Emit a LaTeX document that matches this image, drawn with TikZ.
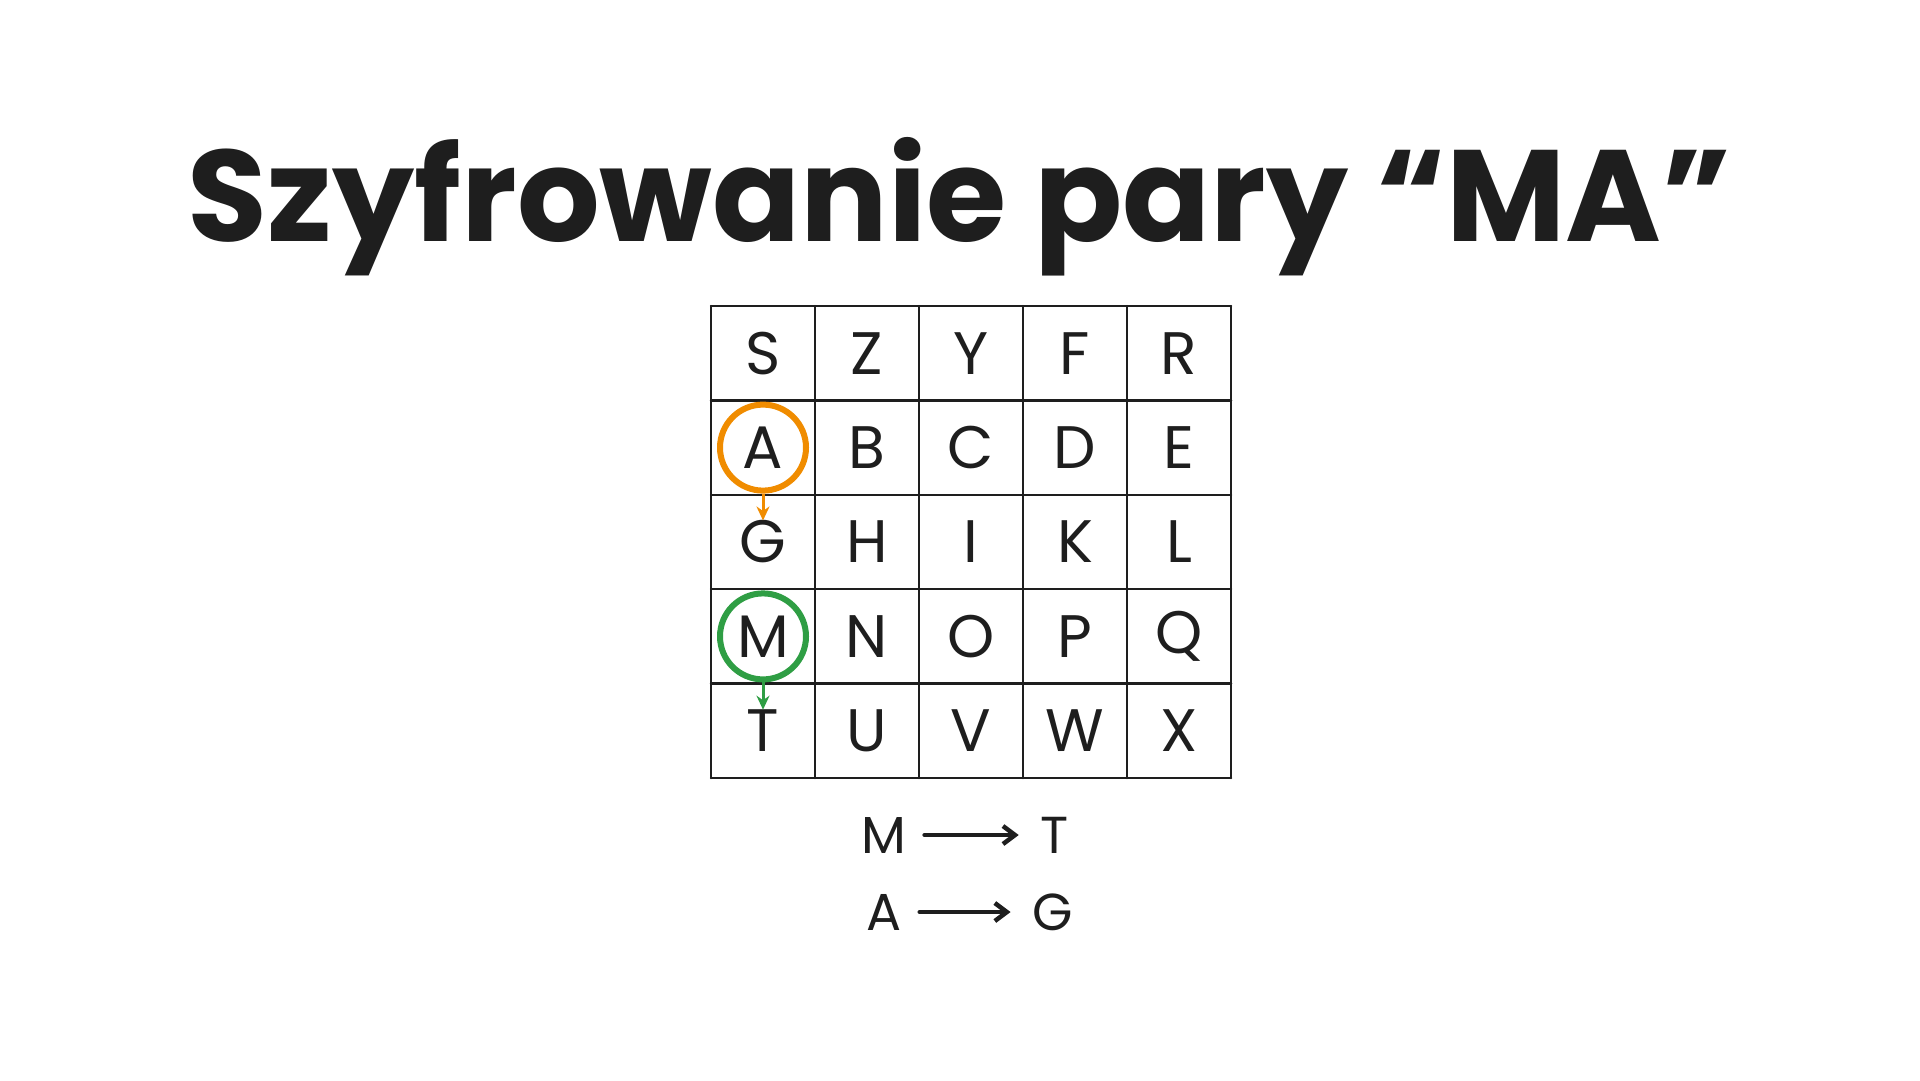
\documentclass[tikz,border=0pt]{standalone}
\usepackage{fontspec}
\setmainfont{Poppins}
\usetikzlibrary{arrows.meta}
\definecolor{ink}{HTML}{1E1E1E}
\definecolor{ringorange}{HTML}{F08C00}
\definecolor{ringgreen}{HTML}{2F9E44}
\tikzset{
  title/.style={font=\fontsize{130}{130}\selectfont\bfseries, text=ink, anchor=base},
  letter/.style={font=\fontsize{60}{60}\selectfont, text=ink, inner sep=0pt},
  pairletter/.style={font=\fontsize{52}{52}\selectfont, text=ink, inner sep=0pt},
  gridline/.style={draw=ink, line width=2.5pt, line cap=round},
  ring/.style={circle, draw=#1, line width=6pt, minimum size=86pt, inner sep=0pt},
  hop/.style={-{Stealth[length=14pt, width=13pt]}, draw=#1, fill=#1, line width=3pt},
  maparrow/.style={-{Straight Barb[length=12pt, width=18pt]}, draw=ink, line width=4.5pt,
    line cap=round, shorten <=18pt, shorten >=22pt},
}
\begin{document}
\begin{tikzpicture}[x=1pt, y=-1pt]
\useasboundingbox (0,0) rectangle (1920,1080);

\def\gx{711}
\def\gy{306}
\def\cw{104}
\def\rh{94.4}

\node[title] (title) at (960,241) {Szyfrowanie pary “MA”};

% the 5x5 square
\foreach \i in {0,...,5} {
  \draw[gridline] (\gx+\i*\cw, \gy) -- (\gx+\i*\cw, \gy+5*\rh);
  \draw[gridline] (\gx, \gy+\i*\rh) -- (\gx+5*\cw, \gy+\i*\rh);
}
\foreach \row [count=\r from 0] in {{S,Z,Y,F,R},{A,B,C,D,E},{G,H,I,K,L},{M,N,O,P,Q},{T,U,V,W,X}}
  \foreach \lt [count=\c from 0] in \row
    \node[letter] (c\lt) at (\gx+\c*\cw+\cw/2, \gy+\r*\rh+\rh/2) {\lt};

\node[ring=ringorange] (ringA) at (cA) {};
\node[ring=ringgreen] (ringM) at (cM) {};
\draw[hop=ringorange] (ringA.south) -- (cG.north);
\draw[hop=ringgreen] (ringM.south) -- (cT.north);

% result of the pair
\node[pairletter] (mapM) at (884,835) {M};
\node[pairletter] (mapT) at (1055,835) {T};
\node[pairletter] (mapA) at (884,912) {A};
\node[pairletter] (mapG) at (1053,912) {G};
\draw[maparrow] (mapM.east) -- (mapT.west);
\draw[maparrow] (mapA.east) -- (mapG.west);

\end{tikzpicture}
\end{document}
